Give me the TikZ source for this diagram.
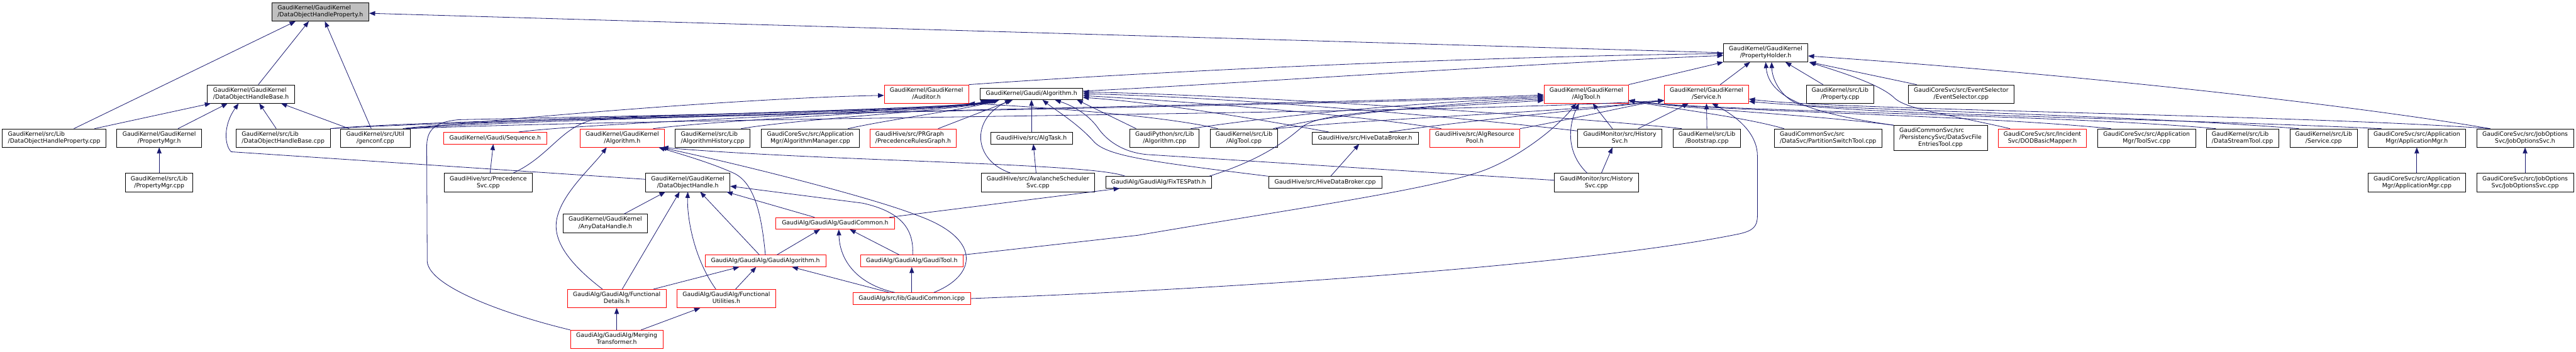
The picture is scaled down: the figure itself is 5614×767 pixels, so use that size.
\documentclass[tikz,border=0pt]{standalone}
\usepackage{fontspec}
\newfontfamily\dvsans{DejaVu Sans}
\usetikzlibrary{arrows.meta}
\definecolor{eblue}{HTML}{191970}
\definecolor{rootgray}{HTML}{BFBFBF}
\newcommand{\gfont}{\dvsans\fontsize{12.8}{15.2}\selectfont}
\newcommand{\twol}[2]{\begin{tabular}{@{}l@{}}#1\\\multicolumn{1}{@{}c@{}}{#2}\end{tabular}}
\newcommand{\threel}[3]{\begin{tabular}{@{}l@{}}#1\\#2\\\multicolumn{1}{@{}c@{}}{#3}\end{tabular}}
\tikzset{
 nb/.style={draw=black, fill=white, line width=1pt, inner sep=0pt, minimum height=40pt, font=\gfont, align=center},
 nr/.style={nb, draw=red},
 one/.style={minimum height=25.5pt},
 e/.style={draw=eblue, line width=1.1pt, -{Triangle[length=13pt,width=10pt]}},
}
\begin{document}
\begin{tikzpicture}[x=1pt,y=-1pt]
\useasboundingbox (0,0) rectangle (5614,767);
% row 1
\node[nb, fill=rootgray, minimum width=212pt] (A) at (698,26) {\twol{GaudiKernel/GaudiKernel}{/DataObjectHandleProperty.h}};
\node[nb, minimum width=184pt] (C) at (3848,115) {\twol{GaudiKernel/GaudiKernel}{/PropertyHolder.h}};
% row 2
\node[nb, minimum width=190pt] (B) at (547,205) {\twol{GaudiKernel/GaudiKernel}{/DataObjectHandleBase.h}};
\node[nr, minimum width=184pt] (Aud) at (2019,205) {\twol{GaudiKernel/GaudiKernel}{/Auditor.h}};
\node[nb, one, minimum width=223pt] (GA) at (2248,204.5) {GaudiKernel/Gaudi/Algorithm.h};
\node[nr, minimum width=184pt] (ATh) at (3457,205) {\twol{GaudiKernel/GaudiKernel}{/AlgTool.h}};
\node[nr, minimum width=184pt] (Svh) at (3719,205) {\twol{GaudiKernel/GaudiKernel}{/Service.h}};
\node[nb, minimum width=147pt] (Pc) at (4010,205) {\twol{GaudiKernel/src/Lib}{/Property.cpp}};
\node[nb, minimum width=231pt] (ES) at (4274,205) {\twol{GaudiCoreSvc/src/EventSelector}{/EventSelector.cpp}};
% row 3
\node[nb, minimum width=226pt] (D4) at (118,301) {\twol{GaudiKernel/src/Lib}{/DataObjectHandleProperty.cpp}};
\node[nb, minimum width=185pt] (PMh) at (347,301) {\twol{GaudiKernel/GaudiKernel}{/PropertyMgr.h}};
\node[nb, minimum width=205pt] (DBc) at (617,301) {\twol{GaudiKernel/src/Lib}{/DataObjectHandleBase.cpp}};
\node[nb, minimum width=151pt] (gen) at (818,301) {\twol{GaudiKernel/src/Util}{/genconf.cpp}};
\node[nr, one, minimum width=224pt] (Seq) at (1079,301) {GaudiKernel/Gaudi/Sequence.h};
\node[nr, minimum width=184pt] (GKA) at (1356,301) {\twol{GaudiKernel/GaudiKernel}{/Algorithm.h}};
\node[nb, minimum width=163pt] (AH) at (1553,301) {\twol{GaudiKernel/src/Lib}{/AlgorithmHistory.cpp}};
\node[nb, minimum width=213pt] (AM) at (1766,301) {\twol{GaudiCoreSvc/src/Application}{Mgr/AlgorithmManager.cpp}};
\node[nr, minimum width=188pt] (PRG) at (1990,301) {\twol{GaudiHive/src/PRGraph}{/PrecedenceRulesGraph.h}};
\node[nb, one, minimum width=179pt] (AT) at (2248,301) {GaudiHive/src/AlgTask.h};
\node[nb, minimum width=151pt] (GPy) at (2538,301) {\twol{GaudiPython/src/Lib}{/Algorithm.cpp}};
\node[nb, minimum width=147pt] (ATc) at (2711,301) {\twol{GaudiKernel/src/Lib}{/AlgTool.cpp}};
\node[nb, one, minimum width=232pt] (HDh) at (2975,301) {GaudiHive/src/HiveDataBroker.h};
\node[nr, minimum width=197pt] (ARP) at (3214,301) {\twol{GaudiHive/src/AlgResource}{Pool.h}};
\node[nb, minimum width=183pt] (HSh) at (3530,301) {\twol{GaudiMonitor/src/History}{Svc.h}};
\node[nb, minimum width=147pt] (Boot) at (3720,301) {\twol{GaudiKernel/src/Lib}{/Bootstrap.cpp}};
\node[nb, minimum width=235pt] (PS) at (3984,301) {\twol{GaudiCommonSvc/src}{/DataSvc/PartitionSwitchTool.cpp}};
\node[nb, minimum width=204pt, minimum height=55pt] (DSF) at (4229,301) {\threel{GaudiCommonSvc/src}{/PersistencySvc/DataSvcFile}{EntriesTool.cpp}};
\node[nr, minimum width=192pt] (DOD) at (4451,301) {\twol{GaudiCoreSvc/src/Incident}{Svc/DODBasicMapper.h}};
\node[nb, minimum width=214pt] (TS) at (4678,301) {\twol{GaudiCoreSvc/src/Application}{Mgr/ToolSvc.cpp}};
\node[nb, minimum width=157pt] (DST) at (4887,301) {\twol{GaudiKernel/src/Lib}{/DataStreamTool.cpp}};
\node[nb, minimum width=147pt] (Svc) at (5064,301) {\twol{GaudiKernel/src/Lib}{/Service.cpp}};
\node[nb, minimum width=213pt] (AMh) at (5267,301) {\twol{GaudiCoreSvc/src/Application}{Mgr/ApplicationMgr.h}};
\node[nb, minimum width=211pt] (JOh) at (5503,301) {\twol{GaudiCoreSvc/src/JobOptions}{Svc/JobOptionsSvc.h}};
% row 4
\node[nb, minimum width=147pt] (PMc) at (347,398) {\twol{GaudiKernel/src/Lib}{/PropertyMgr.cpp}};
\node[nb, minimum width=191pt] (PSv) at (1064,398) {\twol{GaudiHive/src/Precedence}{Svc.cpp}};
\node[nb, minimum width=184pt] (DOH) at (1499,398) {\twol{GaudiKernel/GaudiKernel}{/DataObjectHandle.h}};
\node[nb, minimum width=248pt] (Av) at (2262,398) {\twol{GaudiHive/src/AvalancheScheduler}{Svc.cpp}};
\node[nb, one, minimum width=231pt] (FT) at (2525,397.5) {GaudiAlg/GaudiAlg/FixTESPath.h};
\node[nb, one, minimum width=247pt] (HDc) at (2888,397.5) {GaudiHive/src/HiveDataBroker.cpp};
\node[nb, minimum width=183pt] (HSc) at (3479,398) {\twol{GaudiMonitor/src/History}{Svc.cpp}};
\node[nb, minimum width=213pt] (AMc) at (5267,398) {\twol{GaudiCoreSvc/src/Application}{Mgr/ApplicationMgr.cpp}};
\node[nb, minimum width=211pt] (JOc) at (5503,398) {\twol{GaudiCoreSvc/src/JobOptions}{Svc/JobOptionsSvc.cpp}};
% rows 5-8
\node[nb, minimum width=184pt] (ADH) at (1319,487) {\twol{GaudiKernel/GaudiKernel}{/AnyDataHandle.h}};
\node[nr, one, minimum width=258pt] (GCh) at (1820,487) {GaudiAlg/GaudiAlg/GaudiCommon.h};
\node[nr, one, minimum width=263pt] (GAh) at (1668,569) {GaudiAlg/GaudiAlg/GaudiAlgorithm.h};
\node[nr, one, minimum width=224pt] (GTh) at (1987,569) {GaudiAlg/GaudiAlg/GaudiTool.h};
\node[nr, minimum width=215pt] (FD) at (1344,651) {\twol{GaudiAlg/GaudiAlg/Functional}{Details.h}};
\node[nr, minimum width=215pt] (FU) at (1583,651) {\twol{GaudiAlg/GaudiAlg/Functional}{Utilities.h}};
\node[nr, one, minimum width=256pt] (GCi) at (1987,651) {GaudiAlg/src/lib/GaudiCommon.icpp};
\node[nr, minimum width=201pt] (MT) at (1344,740) {\twol{GaudiAlg/GaudiAlg/Merging}{Transformer.h}};

% ---- edges ----
% root
\draw[e] ([xshift=43pt]D4.north) -- ([xshift=-54pt]A.south);
\draw[e] ([xshift=16pt]B.north) -- ([xshift=-25pt]A.south);
\draw[e] ([xshift=-9pt]gen.north) -- ([xshift=10pt]A.south);
\draw[e] (C.west) -- ([yshift=-3pt]A.east);
% DataObjectHandleBase.h
\draw[e] ([xshift=88pt]D4.north) -- ([xshift=8pt]B.south west);
\draw[e] ([xshift=41pt]PMh.north) -- ([xshift=-51pt]B.south);
\draw[e] ([yshift=7pt]DOH.west) -- (504,331) .. controls (490,318) and (485,275) .. ([xshift=-27pt]B.south);
\draw[e] ([xshift=-15pt]DBc.north) -- ([xshift=18pt]B.south);
\draw[e] ([xshift=-57pt]gen.north) -- ([xshift=-30pt]B.south east);
\draw[e] (PMc) -- (PMh);
% PropertyHolder.h
\draw[e] (Aud.north east) .. controls (2600,150) and (3300,122) .. ([yshift=-2pt]C.west);
\draw[e] ([yshift=6pt]GA.east) .. controls (2600,188) and (3300,140) .. ([yshift=-6pt]C.west);
\draw[e] (ATh.north east) -- (C.south west);
\draw[e] ([xshift=30pt]Svh.north) -- ([xshift=-34pt]C.south);
\draw[e] ([xshift=-37pt]Pc.north) -- ([xshift=43pt]C.south);
\draw[e] ([xshift=19pt]ES.north west) -- ([xshift=4pt]C.south east);
\draw[e] ([xshift=26pt]DOD.north west) .. controls (4250,250) and (4160,240) .. (4130,215) .. controls (4100,185) and (4020,160) .. ([xshift=2pt]C.south east);
\draw[e] (DSF.north west) .. controls (3950,248) and (3855,215) .. (C.south);
\draw[e] ([xshift=30pt]AMh.north west) .. controls (4700,258) and (4100,250) .. (3930,230) .. controls (3885,220) and (3862,175) .. ([xshift=13pt]C.south);
\draw[e] ([xshift=30pt]JOh.north west) .. controls (5100,225) and (4500,160) .. ([yshift=-7pt]C.east);
% Sequence
\draw[e] ([xshift=4pt]PSv.north) -- ([xshift=-4pt]Seq.south);
% DataObjectHandle.h
\draw[e] ([xshift=41pt]ADH.north) -- ([xshift=-49pt]DOH.south);
\draw[e] ([xshift=12pt]FD.north) -- ([xshift=-18pt]DOH.south);
\draw[e] ([xshift=-23pt]FU.north) .. controls (1510,560) and (1497,470) .. (DOH.south);
\draw[e] ([xshift=-13pt]GAh.north) -- ([xshift=27pt]DOH.south);
\draw[e] ([xshift=-45pt]GCh.north) -- ([xshift=-8pt]DOH.south east);
\draw[e] ([xshift=2pt]GTh.north) .. controls (1992,500) and (1965,462) .. (1880,443) -- ([yshift=-8pt]DOH.east);
% GaudiKernel/Algorithm.h
\draw[e] ([xshift=-31pt]FD.north) .. controls (1260,590) and (1210,540) .. (1212,490) .. controls (1214,430) and (1290,365) .. ([xshift=-34pt]GKA.south);
\draw[e] (GAh.north) .. controls (1660,470) and (1645,400) .. (1600,378) .. controls (1550,355) and (1480,335) .. ([xshift=-13pt]GKA.south east);
\draw[e] ([xshift=-73pt]FT.north) .. controls (2380,355) and (1800,352) .. ([xshift=-5pt]GKA.south east);
\draw[e] ([xshift=48pt]GCi.north) .. controls (2130,600) and (2140,520) .. (2000,470) .. controls (1900,430) and (1600,355) .. ([xshift=-9pt]GKA.south east);
% GaudiCommon.h
\draw[e] ([xshift=25pt]GAh.north) -- ([xshift=-33pt]GCh.south);
\draw[e] ([xshift=-37pt]GCi.north) .. controls (1870,620) and (1830,570) .. ([xshift=8pt]GCh.south);
\draw[e] ([xshift=-27pt]GTh.north) -- ([xshift=32pt]GCh.south);
% GaudiAlgorithm.h / GaudiTool.h
\draw[e] ([xshift=80pt]FD.north) -- ([xshift=-57pt]GAh.south);
\draw[e] ([xshift=20pt]FU.north) -- ([xshift=-20pt]GAh.south);
\draw[e] ([xshift=-49pt]GCi.north) -- ([xshift=58pt]GAh.south);
\draw[e] (GCi.north) -- (GTh.south);
% MergingTransformer
\draw[e] (MT.north) -- (FD.south);
\draw[e] ([xshift=53pt]MT.north) -- ([xshift=-57pt]FU.south);
\draw[e] (MT.north west) .. controls (1100,685) and (935,625) .. (931,570) -- (930,320) .. controls (930,285) and (945,266) .. (1000,261) .. controls (1500,250) and (2100,240) .. ([xshift=22pt]GA.south west);
% FixTESPath.h
\draw[e] ([xshift=-11pt]GCh.north east) -- ([xshift=-85pt]FT.south);
% AlgTool.h
\draw[e] ([xshift=-6pt]FT.north east) .. controls (2760,345) and (2810,300) .. (2840,275) .. controls (2870,255) and (2950,245) .. (3100,235) -- ([yshift=-14pt]ATh.west);
\draw[e] (GTh.north east) -- (2480,513) .. controls (2800,458) and (3150,410) .. (3250,365) .. controls (3330,330) and (3400,270) .. ([xshift=-22pt]ATh.south);
\draw[e] ([xshift=-20pt]HSc.north) .. controls (3410,330) and (3420,270) .. ([xshift=-16pt]ATh.south);
\draw[e] ([xshift=-16pt]HSh.north) -- ([xshift=14pt]ATh.south);
\draw[e] ([xshift=-10pt]gen.north east) .. controls (1300,250) and (2800,230) .. ([yshift=-2pt]ATh.west);
\draw[e] (DBc.north east) .. controls (1200,252) and (2800,233) .. ([yshift=-5pt]ATh.west);
\draw[e] ([xshift=-19pt]GPy.north east) .. controls (2800,250) and (3100,222) .. ([yshift=-8pt]ATh.west);
\draw[e] ([xshift=-10pt]ATc.north east) .. controls (2900,250) and (3150,225) .. ([yshift=-11pt]ATh.west);
\draw[e] ([xshift=22pt]PS.north west) .. controls (3800,255) and (3650,238) .. ([yshift=-14pt]ATh.east);
\draw[e] (DSF.north west) .. controls (3950,250) and (3700,240) .. ([yshift=-14pt]ATh.east);
\draw[e] ([xshift=30pt]TS.north west) .. controls (4300,250) and (3700,242) .. ([yshift=-14pt]ATh.east);
\draw[e] ([xshift=21pt]DST.north west) .. controls (4500,250) and (3700,242) .. ([yshift=-14pt]ATh.east);
% Service.h
\draw[e] (GCi.east) .. controls (2800,625) and (3500,570) .. (3790,510) .. controls (3822,503) and (3830,493) .. (3830,470) -- (3830,340) .. controls (3830,300) and (3800,262) .. ([xshift=12pt]Svh.south);
\draw[e] (Boot.north) -- (Svh.south);
\draw[e] ([xshift=-52pt]HSh.north east) -- ([xshift=-39pt]Svh.south);
\draw[e] (ARP.north east) .. controls (3450,255) and (3560,228) .. ([yshift=-14pt]Svh.west);
\draw[e] ([xshift=-64pt]HDh.north east) .. controls (3200,262) and (3500,235) .. ([yshift=-14pt]Svh.west);
\draw[e] ([xshift=-4pt]gen.north east) .. controls (1500,255) and (3100,250) .. ([yshift=-14pt]Svh.west);
\draw[e] ([xshift=-4pt]ATc.north east) .. controls (3000,258) and (3400,245) .. ([yshift=-14pt]Svh.west);
\draw[e] ([xshift=30pt]JOh.north west) .. controls (5000,250) and (4000,240) .. ([yshift=-11pt]Svh.east);
\draw[e] ([xshift=20pt]Svc.north west) .. controls (4600,248) and (4000,240) .. ([yshift=-16pt]Svh.east);
% Auditor.h
\draw[e] ([xshift=-2pt]gen.north east) .. controls (1300,240) and (1700,212) .. ([yshift=-3pt]Aud.west);
\draw[e] ([xshift=17pt]ATc.north west) .. controls (2550,255) and (2300,235) .. (Aud.south east);
% Gaudi/Algorithm.h
\draw[e] (DBc.north east) .. controls (900,262) and (2100,240) .. ([xshift=14pt]GA.south west);
\draw[e] ([xshift=-16pt]gen.north east) .. controls (1000,260) and (2100,240) .. ([xshift=18pt]GA.south west);
\draw[e] ([xshift=-61pt]Seq.north east) .. controls (1300,266) and (2100,240) .. ([xshift=26pt]GA.south west);
\draw[e] ([xshift=54pt]PSv.north) .. controls (1200,340) and (1225,272) .. (1300,260) .. controls (1600,250) and (2100,240) .. ([xshift=30pt]GA.south west);
\draw[e] ([xshift=-25pt]GKA.north east) .. controls (1600,258) and (2100,240) .. ([xshift=34pt]GA.south west);
\draw[e] ([xshift=-20pt]AH.north east) .. controls (1750,258) and (2100,240) .. ([xshift=38pt]GA.south west);
\draw[e] ([xshift=-25pt]AM.north east) .. controls (1950,258) and (2100,240) .. ([xshift=42pt]GA.south west);
\draw[e] ([xshift=-40pt]PRG.north east) -- ([xshift=-41pt]GA.south);
\draw[e] ([xshift=-59pt]Av.north) .. controls (2120,350) and (2115,260) .. ([xshift=-45pt]GA.south);
\draw[e] (AT.north) -- (GA.south);
\draw[e] ([xshift=-4pt]Av.north) -- ([xshift=4pt]AT.south);
\draw[e] (HDc.north west) .. controls (2500,352) and (2415,340) .. (2385,310) .. controls (2350,270) and (2300,240) .. ([xshift=24pt]GA.south);
\draw[e] ([yshift=5pt]HSc.west) -- (2500,337) .. controls (2445,332) and (2412,305) .. (2395,282) .. controls (2370,245) and (2330,228) .. ([xshift=51pt]GA.south);
\draw[e] ([xshift=14pt]GPy.north west) -- ([xshift=-13pt]GA.south east);
\draw[e] ([xshift=37pt]HDh.north west) .. controls (2700,252) and (2500,222) .. ([yshift=-8pt]GA.east);
\draw[e] ([xshift=26pt]ARP.north west) .. controls (2950,250) and (2600,222) .. ([yshift=-4pt]GA.east);
\draw[e] ([yshift=-5pt]HSh.north west) .. controls (3200,258) and (2700,212) .. (GA.east);
\draw[e] ([xshift=19pt]Boot.north west) .. controls (3500,262) and (2800,210) .. ([yshift=4pt]GA.east);
% verticals
\draw[e] ([xshift=12pt]HDc.north) -- ([xshift=-13pt]HDh.south);
\draw[e] ([xshift=11pt]HSc.north) -- ([xshift=-16pt]HSh.south);
\draw[e] (AMc) -- (AMh);
\draw[e] (JOc) -- (JOh);
\end{tikzpicture}
\end{document}
